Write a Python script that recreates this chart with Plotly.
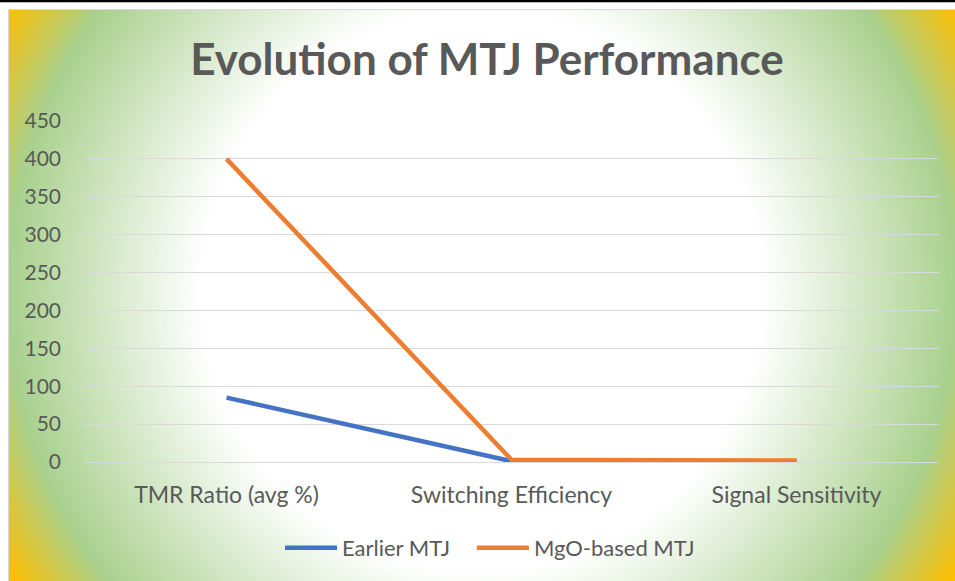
import base64, struct, zlib
import numpy as np
import plotly.graph_objects as go

# ---------------- data ----------------
categories = ["TMR Ratio (avg %)", "Switching Efficiency", "Signal Sensitivity"]
earlier_mtj = [85, 1, 1]
mgo_mtj = [400, 3, 2]
y_ticks = [0, 50, 100, 150, 200, 250, 300, 350, 400, 450]
series_names = ["Earlier MTJ", "MgO-based MTJ"]

# ---------------- geometry ----------------
W, H = 955, 581
ML, MR, MT, MB = 84, 16, 121, 119
PW, PH = W - ML - MR, H - MT - MB
BOX_X0, BOX_Y0 = 8, 9          # chart box top-left in pixels
BOX_W, BOX_H = W - BOX_X0, H - BOX_Y0


def px_to_paper_x(px):
    return (px - ML) / PW


def py_to_paper_y(py):
    return (H - MB - py) / PH


# ---------------- background radial gradient (style only) ----------------
def gradient_png():
    yy, xx = np.mgrid[0:BOX_H, 0:BOX_W].astype(float)
    cx, cy = BOX_W / 2.0, BOX_H / 2.0 - 5
    d = np.sqrt((xx - cx) ** 2 + (yy - cy) ** 2)
    white = np.array([255, 255, 255], float)
    green = np.array([169, 209, 142], float)
    yellow = np.array([255, 192, 0], float)
    r0, r1, r2 = 282.0, 474.0, 552.0
    t1 = np.clip((d - r0) / (r1 - r0), 0, 1)[..., None]
    t2 = np.clip((d - r1) / (r2 - r1), 0, 1)[..., None]
    col = white * (1 - t1) + green * t1
    col = col * (1 - t2) + yellow * t2
    arr = np.clip(col, 0, 255).astype(np.uint8)
    h, w, _ = arr.shape
    raw = b"".join(b"\x00" + arr[i].tobytes() for i in range(h))

    def chunk(tag, data):
        return (struct.pack(">I", len(data)) + tag + data
                + struct.pack(">I", zlib.crc32(tag + data) & 0xFFFFFFFF))

    png = (b"\x89PNG\r\n\x1a\n"
           + chunk(b"IHDR", struct.pack(">IIBBBBB", w, h, 8, 2, 0, 0, 0))
           + chunk(b"IDAT", zlib.compress(raw, 9))
           + chunk(b"IEND", b""))
    return "data:image/png;base64," + base64.b64encode(png).decode()


FONT = "Lato"
TXT = "#595959"
PAD = "\u00a0\u00a0\u00a0"

fig = go.Figure()
fig.add_trace(go.Scatter(
    x=categories, y=earlier_mtj, mode="lines", name=series_names[0] + PAD,
    line=dict(color="#4472C4", width=4.5), cliponaxis=False, hoverinfo="skip"))
fig.add_trace(go.Scatter(
    x=categories, y=mgo_mtj, mode="lines", name=series_names[1],
    line=dict(color="#ED7D31", width=4.5), cliponaxis=False, hoverinfo="skip"))

fig.update_layout(
    width=W, height=H,
    margin=dict(l=ML, r=MR, t=MT, b=MB),
    paper_bgcolor="white",
    plot_bgcolor="rgba(0,0,0,0)",
    font=dict(family=FONT, color=TXT, size=21),
    title=dict(text="Evolution of MTJ Performance", x=487 / W, xanchor="center",
               y=1 - 60 / H, yanchor="middle",
               font=dict(family=FONT, size=44, color=TXT, weight="bold")),
    xaxis=dict(range=[-0.5, 2.5], showgrid=False, zeroline=False, showline=False,
               ticks="", ticklabelstandoff=17, tickfont=dict(size=23, color=TXT)),
    yaxis=dict(range=[0, 450], tickvals=y_ticks, showgrid=True, gridcolor="#D9D9D9",
               gridwidth=1.3, zeroline=True, zerolinecolor="#D9D9D9", zerolinewidth=1.3,
               showline=False, ticks="", ticklabelstandoff=22,
               tickfont=dict(size=21, color=TXT)),
    legend=dict(orientation="h", x=px_to_paper_x(490), xanchor="center",
                y=py_to_paper_y(548), yanchor="middle", bgcolor="rgba(0,0,0,0)",
                font=dict(size=22, color=TXT), itemwidth=52, tracegroupgap=0),
    showlegend=True,
    images=[dict(source=gradient_png(), xref="paper", yref="paper",
                 x=px_to_paper_x(BOX_X0), y=py_to_paper_y(BOX_Y0),
                 sizex=BOX_W / PW, sizey=BOX_H / PH, sizing="stretch",
                 xanchor="left", yanchor="top", layer="below")],
    shapes=[
        dict(type="rect", xref="paper", yref="paper",
             x0=px_to_paper_x(BOX_X0 + 0.5), x1=px_to_paper_x(W + 2),
             y0=py_to_paper_y(BOX_Y0 + 0.5), y1=py_to_paper_y(H + 2),
             line=dict(color="#D9D9D9", width=1), fillcolor="rgba(0,0,0,0)", layer="above"),
        dict(type="line", xref="paper", yref="paper",
             x0=px_to_paper_x(0), x1=px_to_paper_x(W),
             y0=py_to_paper_y(1), y1=py_to_paper_y(1),
             line=dict(color="black", width=2.5), layer="above"),
    ],
)

fig.write_html("out.html", config={"displayModeBar": False},
               post_script="document.body.style.margin='0';document.body.style.padding='0';")
